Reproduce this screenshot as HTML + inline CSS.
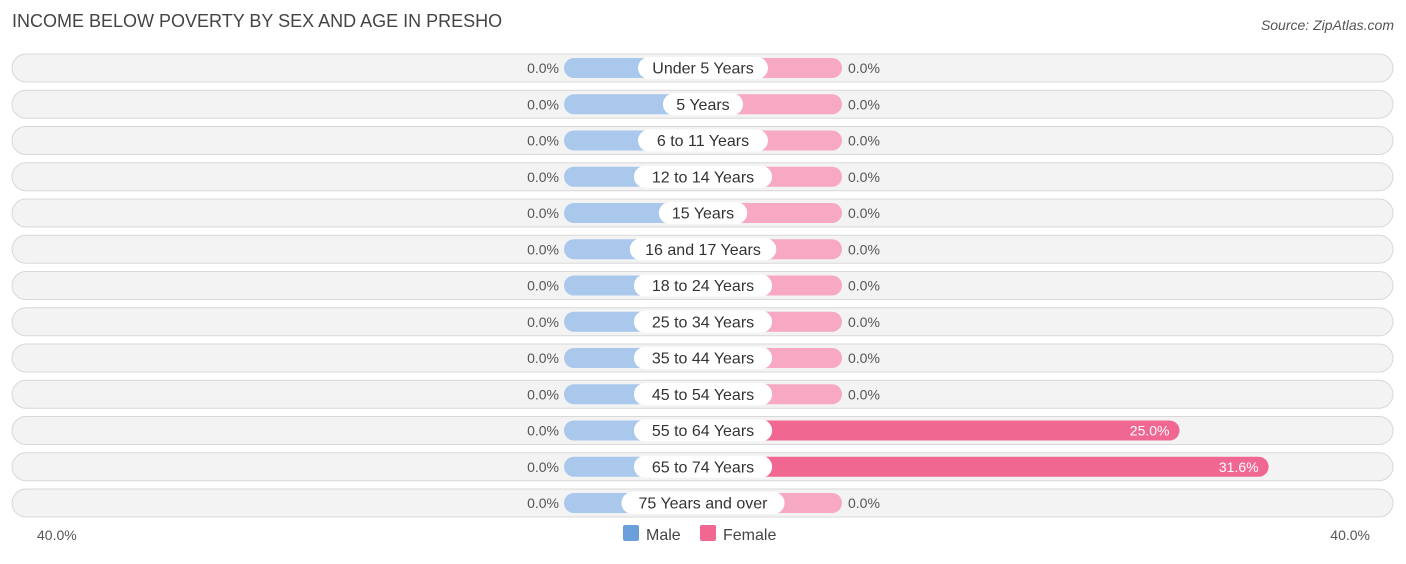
<!DOCTYPE html>
<html><head><meta charset="utf-8"><style>
body{margin:0;background:#fff;font-family:"Liberation Sans",sans-serif;}
svg text{font-family:"Liberation Sans",sans-serif;}
</style></head><body>
<svg id="chart" width="1406" height="559">
<text x="12" y="27" font-size="18" fill="#444">INCOME BELOW POVERTY BY SEX AND AGE IN PRESHO</text>
<text x="1394" y="30" font-size="14" fill="#555" font-style="italic" text-anchor="end">Source: ZipAtlas.com</text>
<g id="rows"></g>
<text x="37" y="540" font-size="14" fill="#555">40.0%</text>
<text x="1370" y="540" font-size="14" fill="#555" text-anchor="end">40.0%</text>
<g>
<rect x="623" y="525" width="16" height="16" rx="2" fill="#6a9fdb"/>
<text x="646" y="540" font-size="16" fill="#444">Male</text>
<rect x="700" y="525" width="16" height="16" rx="2" fill="#f06892"/>
<text x="723" y="540" font-size="16" fill="#444">Female</text>
</g>
</svg>
<script>
const categories=["Under 5 Years","5 Years","6 to 11 Years","12 to 14 Years","15 Years","16 and 17 Years","18 to 24 Years","25 to 34 Years","35 to 44 Years","45 to 54 Years","55 to 64 Years","65 to 74 Years","75 Years and over"];
const maleValues=[0,0,0,0,0,0,0,0,0,0,0,0,0];
const femaleValues=[0,0,0,0,0,0,0,0,0,0,25.0,31.6,0];
const NS="http://www.w3.org/2000/svg";
const cx=703, minW=139, pxPer=13.5;
function barW(v){return minW+v*pxPer;}
function rowY(i){return 68+i*36.25;}
const g=document.getElementById('rows');
function mk(tag,attrs){const e=document.createElementNS(NS,tag);for(const k in attrs)e.setAttribute(k,attrs[k]);return e;}
categories.forEach((c,i)=>{
  const y=rowY(i);
  const bg=mk('rect',{x:12,y:y-14,width:1381,height:28,rx:14,fill:'#f3f3f3',stroke:'#d8d8d8'});
  
  
  g.appendChild(bg);
  const mw=barW(maleValues[i]);
  const mb=mk('rect',{x:cx-mw,y:y-10,width:mw,height:20,rx:10,fill:'#a9c8ec'});
  
  
  g.appendChild(mb);
  const fv=femaleValues[i], fw=barW(fv);
  const fb=mk('rect',{x:cx,y:y-10,width:fw,height:20,rx:10,fill:fv>0?'#f06892':'#f7a8c2'});
  
  
  g.appendChild(fb);
  const ml=mk('text',{x:cx-mw-5,y:y+5,'font-size':14,fill:'#555','text-anchor':'end'});
  ml.textContent=maleValues[i].toFixed(1)+'%';
  
  
  g.appendChild(ml);
  const fl=fv>0?mk('text',{x:cx+fw-10,y:y+5,'font-size':14,fill:'#fff','text-anchor':'end'}):mk('text',{x:cx+fw+6,y:y+5,'font-size':14,fill:'#555'});
  fl.textContent=fv.toFixed(1)+'%';
  
  
  g.appendChild(fl);
  const lw=c.length*8.3+22;
  const lb=mk('rect',{x:cx-lw/2,y:y-11,width:lw,height:22,rx:11,fill:'#fff'});
  
  
  g.appendChild(lb);
  const lt=mk('text',{x:cx,y:y+5.5,'font-size':16,fill:'#333','text-anchor':'middle'});
  lt.textContent=c;
  
  
  g.appendChild(lt);
});
</script>
</body></html>
